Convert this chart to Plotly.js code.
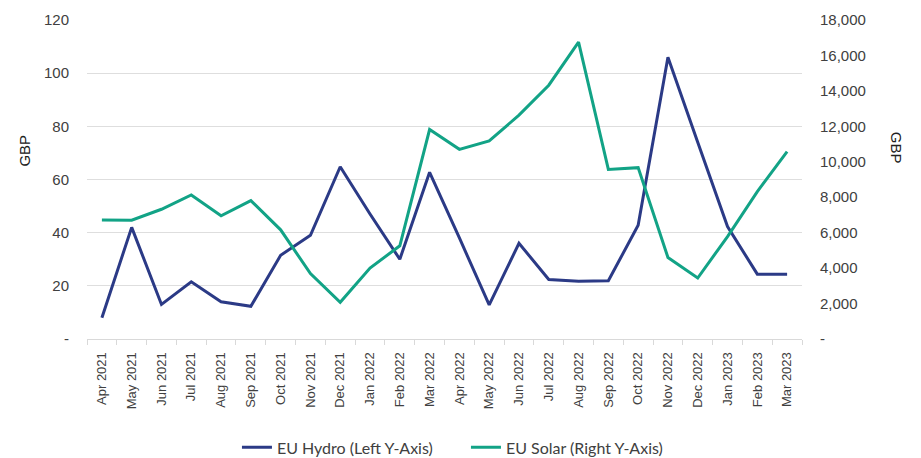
<!DOCTYPE html>
<html>
<head>
<meta charset="utf-8">
<script src="https://cdn.plot.ly/plotly-3.0.1.min.js"></script>
<style>html,body{margin:0;padding:0;background:#fff;}#chart{width:921px;height:458px;}</style>
</head>
<body>
<div id="chart"></div>
<script>
const months = ["Apr 2021","May 2021","Jun 2021","Jul 2021","Aug 2021","Sep 2021","Oct 2021","Nov 2021","Dec 2021","Jan 2022","Feb 2022","Mar 2022","Apr 2022","May 2022","Jun 2022","Jul 2022","Aug 2022","Sep 2022","Oct 2022","Nov 2022","Dec 2022","Jan 2023","Feb 2023","Mar 2023"];
const hydro = [8, 42, 13, 21.5, 14, 12.3, 31.5, 39, 64.8, 47, 30, 62.7, 38, 12.8, 36, 22.4, 21.7, 21.9, 42.8, 106, 74, 42.3, 24.4, 24.4];
const solar = [6720, 6700, 7320, 8130, 6950, 7810, 6160, 3690, 2070, 4000, 5260, 11820, 10700, 11180, 12630, 14320, 16750, 9570, 9670, 4600, 3440, 5780, 8320, 10570];
const leftTickVals = [0, 20, 40, 60, 80, 100, 120];
const leftTickText = ["-", "20", "40", "60", "80", "100", "120"];
const rightTickVals = [0, 2000, 4000, 6000, 8000, 10000, 12000, 14000, 16000, 18000];
const rightTickText = ["-", "2,000", "4,000", "6,000", "8,000", "10,000", "12,000", "14,000", "16,000", "18,000"];
const seriesNames = ["EU Hydro (Left Y-Axis)", "EU Solar (Right Y-Axis)"];
const axisTitle = "GBP";

const tickFont = {family: "Liberation Sans, Arial, sans-serif", size: 15, color: "#404040"};
const data = [
  {x: months, y: hydro, type: "scatter", mode: "lines", name: seriesNames[0],
   line: {color: "#2b3a86", width: 3}, yaxis: "y"},
  {x: months, y: solar, type: "scatter", mode: "lines", name: seriesNames[1],
   line: {color: "#12a386", width: 3}, yaxis: "y2"}
];
const layout = {
  width: 921, height: 458,
  margin: {l: 87, r: 118.5, t: 19.5, b: 118.5, autoexpand: false},
  paper_bgcolor: "#fff", plot_bgcolor: "#fff",
  showlegend: true,
  legend: {orientation: "h", x: 0.53, xanchor: "center", y: -0.34, yanchor: "middle",
           entrywidth: 184, entrywidthmode: "pixels",
           font: {family: "Lato, sans-serif", size: 16, color: "#404040"}, traceorder: "normal"},
  xaxis: {type: "category", range: [-0.5, 23.5], tickangle: -90, tickson: "boundaries",
          ticks: "outside", ticklen: 5, tickcolor: "#d9d9d9", showline: true, linecolor: "#d9d9d9",
          showgrid: false, zeroline: false, ticklabelstandoff: 7, automargin: false,
          tickfont: {family: "Liberation Sans, Arial, sans-serif", size: 13, color: "#404040"}},
  yaxis: {range: [0, 120], tickvals: leftTickVals, ticktext: leftTickText, ticks: "",
          gridcolor: "#dedede", gridwidth: 1, zeroline: false, showline: false, automargin: false,
          ticklabelstandoff: 17, tickfont: tickFont},
  yaxis2: {range: [0, 18000], tickvals: rightTickVals, ticktext: rightTickText, overlaying: "y",
           side: "right", showgrid: false, zeroline: false, ticks: "", ticklabelstandoff: 17,
           automargin: false, tickfont: tickFont},
  annotations: [
    {text: axisTitle, xref: "paper", yref: "paper", x: -0.087, y: 0.59, textangle: -90, showarrow: false,
     font: {family: "Liberation Sans, Arial, sans-serif", size: 15, color: "#202020"}, xanchor: "center", yanchor: "middle"},
    {text: axisTitle, xref: "paper", yref: "paper", x: 1.1325, y: 0.6, textangle: 90, showarrow: false,
     font: {family: "Liberation Sans, Arial, sans-serif", size: 15, color: "#202020"}, xanchor: "center", yanchor: "middle"}
  ]
};
Plotly.newPlot("chart", data, layout, {displayModeBar: false, staticPlot: true});
</script>
</body>
</html>
